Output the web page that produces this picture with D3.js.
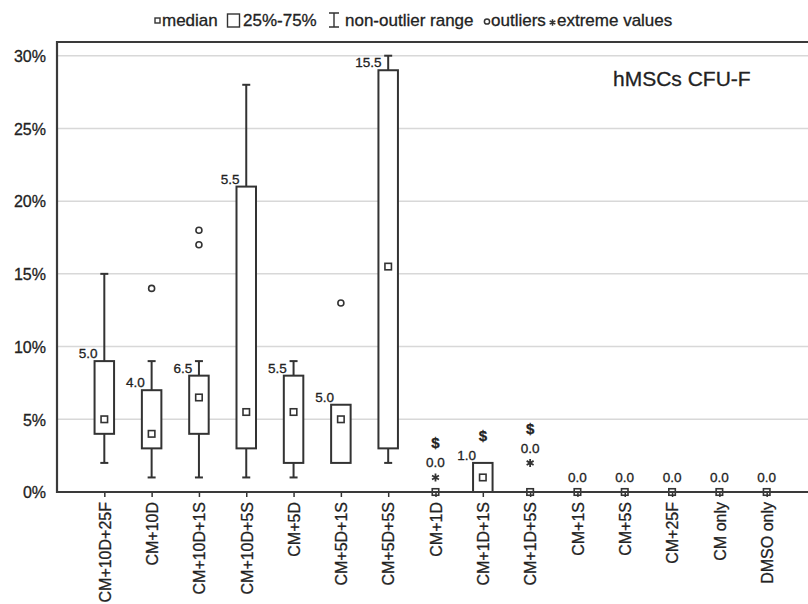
<!DOCTYPE html>
<html>
<head>
<meta charset="utf-8">
<script src="https://cdn.jsdelivr.net/npm/d3@7"></script>
<style>
  body { margin: 0; background: #fff; }
  text { font-family: "Liberation Sans", Arial, sans-serif; fill: #222; stroke: #222; stroke-width: 0.3px; }
</style>
</head>
<body>
<script>
// groups on the x axis
var categories = ['CM+10D+25F', 'CM+10D', 'CM+10D+1S', 'CM+10D+5S', 'CM+5D', 'CM+5D+1S', 'CM+5D+5S',
  'CM+1D', 'CM+1D+1S', 'CM+1D+5S', 'CM+1S', 'CM+5S', 'CM+25F', 'CM only', 'DMSO only'];
// values in %
var medians   = [5, 4, 6.5, 5.5, 5.5, 5, 15.5, 0, 1, 0, 0, 0, 0, 0, 0];
var q1s       = [4, 3, 4, 3, 2, 2, 3, 0, 0, 0, 0, 0, 0, 0, 0];
var q3s       = [9, 7, 8, 21, 8, 6, 29, 0, 2, 0, 0, 0, 0, 0, 0];
var whiskLow  = [2, 1, 1, 1, 1, 2, 2, 0, 0, 0, 0, 0, 0, 0, 0];
var whiskHigh = [15, 9, 9, 28, 9, 6, 30, 0, 2, 0, 0, 0, 0, 0, 0];
var outliers  = [[], [14], [17, 18], [], [], [13], [], [], [], [], [], [], [], [], []];
var extremes  = [[], [], [], [], [], [], [], [1], [], [2], [], [], [], [], []];
var medianLabels = ['5.0', '4.0', '6.5', '5.5', '5.5', '5.0', '15.5', '0.0', '1.0', '0.0', '0.0', '0.0', '0.0', '0.0', '0.0'];
var signMarks = ['', '', '', '', '', '', '', '$', '$', '$', '', '', '', '', ''];
var yTicks = [0, 5, 10, 15, 20, 25, 30];

var W = 808, H = 604;
var padLeft = 57, padTop = 42, axisY = 492;

var svg = d3.select('body').append('svg')
  .attr('width', W).attr('height', H);

var x = d3.scalePoint().domain(categories).range([padLeft, 814]).padding(1);
var y = d3.scaleLinear().domain([0, 30]).range([axisY, 55.7]);

var data = categories.map(function(c, i) {
  return { cat: c, med: medians[i], q1: q1s[i], q3: q3s[i], lo: whiskLow[i], hi: whiskHigh[i],
    out: outliers[i], ext: extremes[i], label: medianLabels[i], sign: signMarks[i] };
});

// grid lines
svg.append('g').selectAll('line').data(yTicks.filter(function(t) { return t > 0; }))
  .enter().append('line')
    .attr('x1', padLeft).attr('x2', W)
    .attr('y1', function(d) { return y(d); }).attr('y2', function(d) { return y(d); })
    .attr('stroke', '#d8d8d8').attr('stroke-width', 1.5);

var boxW = 19.5, capW = 8, medS = 6.5;
var ink = '#333';

var g = svg.append('g').selectAll('g').data(data).enter().append('g')
  .attr('transform', function(d) { return 'translate(' + x(d.cat) + ',0)'; });

// whiskers
g.filter(function(d) { return d.hi > d.q3; }).each(function(d) {
  var s = d3.select(this);
  s.append('line').attr('x1', 0).attr('x2', 0).attr('y1', y(d.q3)).attr('y2', y(d.hi))
    .attr('stroke', ink).attr('stroke-width', 2);
  s.append('line').attr('x1', -capW / 2).attr('x2', capW / 2).attr('y1', y(d.hi)).attr('y2', y(d.hi))
    .attr('stroke', ink).attr('stroke-width', 2);
});
g.filter(function(d) { return d.lo < d.q1; }).each(function(d) {
  var s = d3.select(this);
  s.append('line').attr('x1', 0).attr('x2', 0).attr('y1', y(d.q1)).attr('y2', y(d.lo))
    .attr('stroke', ink).attr('stroke-width', 2);
  s.append('line').attr('x1', -capW / 2).attr('x2', capW / 2).attr('y1', y(d.lo)).attr('y2', y(d.lo))
    .attr('stroke', ink).attr('stroke-width', 2);
});

// boxes
g.filter(function(d) { return d.q3 > d.q1; }).append('rect')
  .attr('x', -boxW / 2).attr('width', boxW)
  .attr('y', function(d) { return y(d.q3); })
  .attr('height', function(d) { return y(d.q1) - y(d.q3); })
  .attr('fill', '#fff').attr('stroke', ink).attr('stroke-width', 2);

// medians
g.append('rect')
  .attr('x', -medS / 2).attr('width', medS)
  .attr('y', function(d) { return y(d.med) - medS / 2; }).attr('height', medS)
  .attr('fill', '#fff').attr('stroke', ink).attr('stroke-width', 1.6);

// outliers
g.selectAll('.outl').data(function(d) { return d.out; }).enter().append('circle')
  .attr('cx', 0).attr('cy', function(v) { return y(v); }).attr('r', 3)
  .attr('fill', '#fff').attr('stroke', ink).attr('stroke-width', 1.6);

// extreme values
g.selectAll('.ext').data(function(d) { return d.ext; }).enter().append('path')
  .attr('d', d3.symbol(d3.symbolAsterisk, 45))
  .attr('transform', function(v) { return 'translate(0,' + y(v) + ')'; })
  .attr('fill', 'none').attr('stroke', ink).attr('stroke-width', 1.8);

// median value labels
g.each(function(d) {
  var s = d3.select(this);
  var ly, lx, anchor;
  if (d.q3 > d.q1) {
    ly = y(d.q3) - 3; lx = -boxW / 2 + 3; anchor = 'end';
  } else {
    var topV = d3.max([d.q3].concat(d.ext));
    ly = y(topV) - 10; lx = 0; anchor = 'middle';
  }
  s.append('text').text(d.label)
    .attr('x', lx).attr('y', ly).attr('text-anchor', anchor)
    .style('font-size', '13.5px');
  if (d.sign) {
    s.append('text').text(d.sign)
      .attr('x', 0).attr('y', ly - 19).attr('text-anchor', 'middle')
      .style('font-size', '15px').style('font-weight', 'bold');
  }
});

// axes
var yAxis = svg.append('g').attr('transform', 'translate(' + padLeft + ',0)')
  .call(d3.axisLeft(y).tickValues(yTicks).tickSize(0).tickPadding(11)
    .tickFormat(function(d) { return d + '%'; }));
yAxis.select('.domain').remove();
yAxis.selectAll('text').style('font-size', '16px').attr('dy', '0.36em');

var xAxis = svg.append('g').attr('transform', 'translate(0,' + axisY + ')')
  .call(d3.axisBottom(x).tickSize(5).tickSizeOuter(0));
xAxis.select('.domain').remove();
xAxis.selectAll('.tick line').attr('stroke', ink).attr('stroke-width', 1.5);
xAxis.selectAll('text')
  .attr('transform', 'rotate(-90)')
  .attr('x', -10).attr('y', 0).attr('dy', '0.36em')
  .attr('text-anchor', 'end')
  .style('font-size', '16px');

// frame
svg.append('path')
  .attr('d', 'M' + W + ',' + padTop + 'H' + padLeft + 'V' + axisY + 'H' + W)
  .attr('fill', 'none').attr('stroke', '#3a3a3a').attr('stroke-width', 2.2);

// title in plot
svg.append('text').text('hMSCs CFU-F')
  .attr('x', 613).attr('y', 86)
  .style('font-size', '21px');

// legend
var lg = svg.append('g').attr('transform', 'translate(0,26)');
var legFont = '17px';
lg.append('rect').attr('x', 155).attr('y', -8).attr('width', 5).attr('height', 5)
  .attr('fill', '#fff').attr('stroke', ink).attr('stroke-width', 1.4);
lg.append('text').text('median').attr('x', 162).style('font-size', legFont);
lg.append('rect').attr('x', 227.5).attr('y', -12).attr('width', 12).attr('height', 13)
  .attr('fill', '#fff').attr('stroke', ink).attr('stroke-width', 1.4);
lg.append('text').text('25%-75%').attr('x', 243).style('font-size', legFont);
lg.append('path').attr('d', 'M329,-13H339M334,-13V1M329,1H339')
  .attr('fill', 'none').attr('stroke', ink).attr('stroke-width', 1.4);
lg.append('text').text('non-outlier range').attr('x', 345).style('font-size', legFont);
lg.append('circle').attr('cx', 487).attr('cy', -4.5).attr('r', 2.6)
  .attr('fill', '#fff').attr('stroke', ink).attr('stroke-width', 1.5);
lg.append('text').text('outliers').attr('x', 491).style('font-size', legFont);
lg.append('path').attr('d', d3.symbol(d3.symbolAsterisk, 30))
  .attr('transform', 'translate(552.5,-3.5)')
  .attr('fill', 'none').attr('stroke', ink).attr('stroke-width', 1.6);
lg.append('text').text('extreme values').attr('x', 557).style('font-size', legFont);
</script>
</body>
</html>
